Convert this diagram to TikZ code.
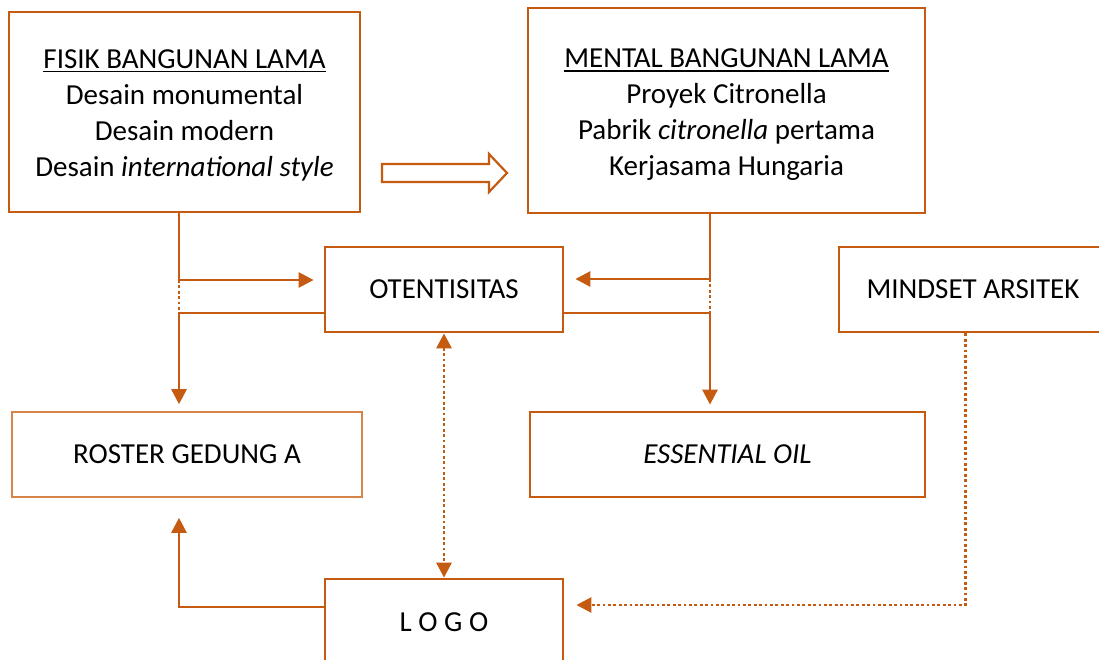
\documentclass[tikz,border=0pt]{standalone}
\usepackage{fontspec}
\setmainfont{Carlito}
\usetikzlibrary{arrows.meta}
\definecolor{oranye}{HTML}{C55A11}
\definecolor{oranyemuda}{HTML}{D6854A}
\newcommand\judul[2]{\setbox0\hbox{#2}\rule{0pt}{#1}\rlap{\rule[-4pt]{\wd0}{1.6pt}}\box0}
\begin{document}
\begin{tikzpicture}[x=1pt, y=-1pt,
	kotak/.style={draw=oranye, line width=2.8pt, inner sep=0pt, align=center,
		font=\fontsize{29pt}{36pt}\selectfont},
	link/.style={draw=oranye, line width=2.8pt, -{Triangle[length=15pt,width=15pt]}},
	titik/.style={link, dash pattern=on 2.8pt off 2.6pt}]
	\useasboundingbox (0,0) rectangle (1099,660);
	\node[kotak, minimum width=351pt, minimum height=200pt] (fisik) at (184.5,112)
		{\judul{25pt}{FISIK BANGUNAN LAMA}\\Desain monumental\\Desain modern\\Desain \textit{international style}};
	\node[kotak, minimum width=397pt, minimum height=205pt] (mental) at (726.5,110.5)
		{\judul{27pt}{MENTAL BANGUNAN LAMA}\\Proyek Citronella\\Pabrik \textit{citronella} pertama\\Kerjasama Hungaria};
	\node[kotak, minimum width=238pt, minimum height=85pt] (otent) at (444,289.5) {OTENTISITAS};
	\node[kotak, minimum width=268pt, minimum height=85pt] (mindset) at (973,289.5) {MINDSET ARSITEK};
	\node[kotak, draw=oranyemuda, line width=1.6pt, minimum width=350pt, minimum height=85pt] (roster) at (187,454.5) {ROSTER GEDUNG A};
	\node[kotak, minimum width=395pt, minimum height=85pt] (oil) at (727.5,454.5) {\textit{ESSENTIAL OIL}};
	\node[kotak, minimum width=238pt, minimum height=86pt] (logo) at (444,622) {L O G O};
	\draw[draw=oranye, line width=2.2pt] (382,164) -- (489,164) -- (489,154) -- (507,173) -- (489,192) -- (489,182) -- (382,182) -- cycle;
	\coordinate (fl) at (179,280);
	\coordinate (fl2) at (179,313);
	\coordinate (fr) at (710,279);
	\coordinate (fr2) at (710,313);
	\coordinate (lg) at (179,607);
	\coordinate (md) at (965.5,605);
	\draw[link, shorten >=10pt] (fisik.south -| fl) -- (fl) -- (fl -| otent.west);
	\draw[titik, -] (fl) -- (fl2);
	\draw[link, shorten >=7pt] (fl2 -| otent.west) -- (fl2) -- (fl2 |- roster.north);
	\draw[link, shorten >=11pt] (mental.south -| fr) -- (fr) -- (fr -| otent.east);
	\draw[titik, -] (fr) -- (fr2);
	\draw[link, shorten >=6pt] (fr2 -| otent.east) -- (fr2) -- (fr2 |- oil.north);
	\draw[titik, {Triangle[length=15pt,width=15pt]}-{Triangle[length=15pt,width=15pt]}] (otent.south) -- (logo.north);
	\draw[link, shorten >=20pt] (logo.west |- lg) -- (lg) -- (lg |- roster.south);
	\draw[titik, shorten >=12pt] (mindset.south -| md) -- (md) -- (md -| logo.east);
\end{tikzpicture}
\end{document}
